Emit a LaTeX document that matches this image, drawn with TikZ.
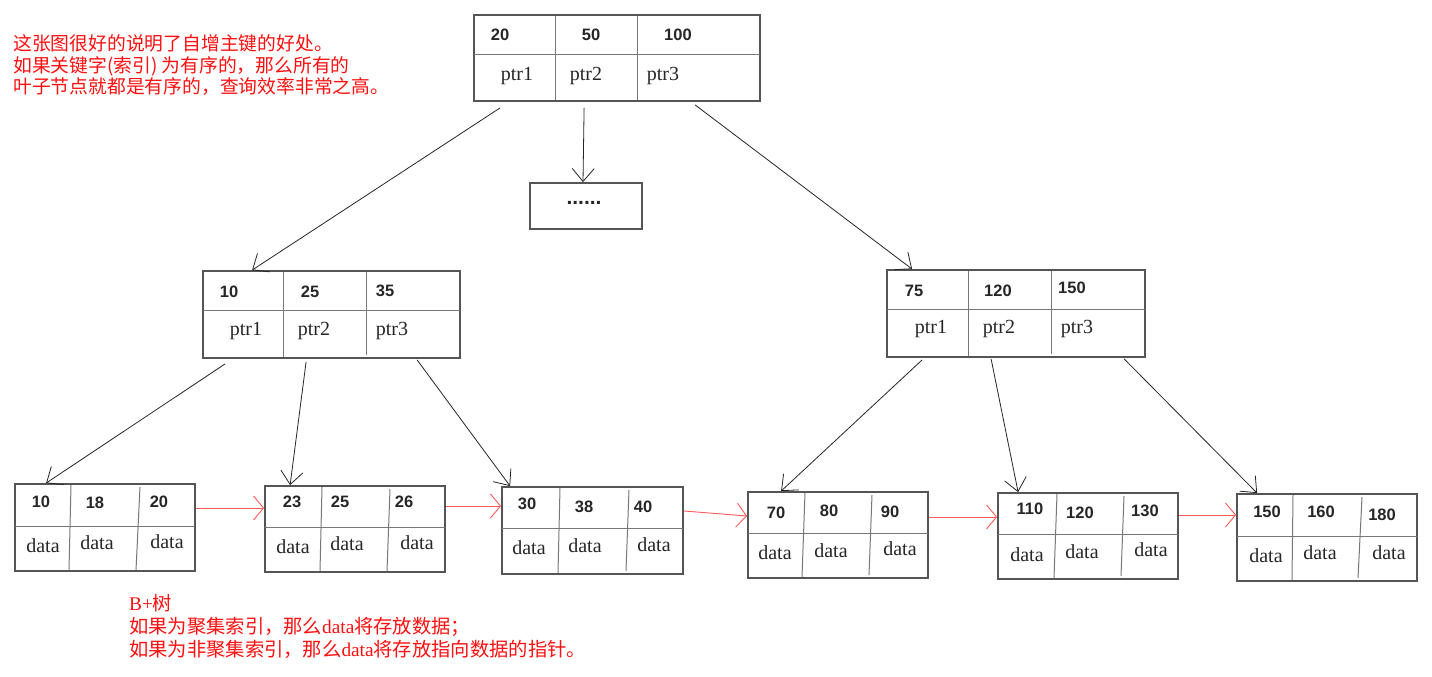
\documentclass[tikz,border=0pt]{standalone}
\usepackage{fontspec}
\setmainfont{Liberation Serif}
\newfontfamily\cjk{Noto Sans CJK SC}
\newfontfamily\numf{Liberation Sans}
\usetikzlibrary{arrows.meta}
\definecolor{boxgray}{HTML}{555555}
\definecolor{divgray}{HTML}{777777}
\definecolor{linkred}{HTML}{FF5A5A}
\definecolor{txtred}{HTML}{FF1010}
\begin{document}
\begin{tikzpicture}[x=1pt,y=-1pt,
  box/.style={draw=boxgray, line width=1.8pt, fill=white, inner sep=0pt, rectangle},
  div/.style={draw=divgray, line width=1pt},
  num/.style={font=\numf\bfseries\fontsize{16.5}{18}\selectfont, text=black!85, inner sep=0pt},
  ser/.style={font=\fontsize{20}{22}\selectfont, text=black!85, inner sep=0pt},
  tree/.style={draw=black!85, line width=0.8pt, -{Straight Barb[length=13pt,width=22pt]}},
  link/.style={draw=linkred, line width=0.9pt, -{Straight Barb[length=10pt,width=24pt]}},
  note/.style={text=txtred, align=left, inner sep=0pt, anchor=west}
]
\fill[white] (0,0) rectangle (1432,677);
\useasboundingbox (0,0) rectangle (1432,677);

% ---------- root ----------
\node[box, minimum width=286pt, minimum height=86pt] (root) at (617,58) {};
\draw[div] (474,55) -- (760,55);
\draw[div] (555,16) -- (555,100);
\draw[div] (637,16) -- (637,100);
\node[num] (r1) at (500,35) {20};
\node[num] (r2) at (591,35) {50};
\node[num] (r3) at (678,35) {100};
\node[ser] (rp1) at (517,76) {ptr1};
\node[ser] (rp2) at (586,76) {ptr2};
\node[ser] (rp3) at (663,76) {ptr3};

% ---------- dots ----------
\node[box, minimum width=112pt, minimum height=46pt] (dots) at (586,206) {};
\node[num, font=\numf\bfseries\fontsize{21}{22}\selectfont] (dt) at (584,203) {......};

% ---------- middle left ----------
\node[box, minimum width=257pt, minimum height=87pt] (ml) at (331.5,314.5) {};
\draw[div] (203,310) -- (460,310);
\draw[div] (283,272) -- (283,357);
\draw[div] (366,272) -- (366,355);
\node[num] (m1) at (229,292) {10};
\node[num] (m2) at (310,292) {25};
\node[num] (m3) at (385,291) {35};
\node[ser] (mp1) at (246,331) {ptr1};
\node[ser] (mp2) at (314,331) {ptr2};
\node[ser] (mp3) at (392,331) {ptr3};

% ---------- middle right ----------
\node[box, minimum width=258pt, minimum height=87pt] (mr) at (1016,313.5) {};
\draw[div] (887,309) -- (1145,309);
\draw[div] (968,271) -- (968,356);
\draw[div] (1051,271) -- (1051,354);
\node[num] (n1) at (914,291) {75};
\node[num] (n2) at (998,291) {120};
\node[num] (n3) at (1072,288) {150};
\node[ser] (np1) at (931,329) {ptr1};
\node[ser] (np2) at (999,329) {ptr2};
\node[ser] (np3) at (1077,329) {ptr3};

% ---------- leaves ----------
\node[box, minimum width=180pt, minimum height=87pt] (L1) at (105,527.5) {};
\draw[div] (15,526) -- (195,526);
\draw[div] (71,485) -- (69,570);
\draw[div] (140,487) -- (136,570);
\node[num] (a1) at (41,502) {10};
\node[num] (a2) at (95,503) {18};
\node[num] (a3) at (159,502) {20};
\node[ser] (ad1) at (43,546) {data};
\node[ser] (ad2) at (97,543) {data};
\node[ser] (ad3) at (167,542) {data};

\node[box, minimum width=180pt, minimum height=86pt] (L2) at (355,529) {};
\draw[div] (265,527) -- (445,527);
\draw[div] (322,487) -- (320,571);
\draw[div] (390,489) -- (387,571);
\node[num] (b1) at (292,502) {23};
\node[num] (b2) at (340,502) {25};
\node[num] (b3) at (404,502) {26};
\node[ser] (bd1) at (293,547) {data};
\node[ser] (bd2) at (347,544) {data};
\node[ser] (bd3) at (417,543) {data};

\node[box, minimum width=181pt, minimum height=87pt] (L3) at (592.5,530.5) {};
\draw[div] (502,528) -- (683,528);
\draw[div] (560,488) -- (558,573);
\draw[div] (629,490) -- (626,571);
\node[num] (c1) at (527,504) {30};
\node[num] (c2) at (584,507) {38};
\node[num] (c3) at (643,507) {40};
\node[ser] (cd1) at (529,548) {data};
\node[ser] (cd2) at (585,546) {data};
\node[ser] (cd3) at (654,545) {data};

\node[box, minimum width=180pt, minimum height=86pt] (L4) at (838,535) {};
\draw[div] (748,533) -- (928,533);
\draw[div] (805,493) -- (802,577);
\draw[div] (872,495) -- (869,575);
\node[num] (d1) at (776,513) {70};
\node[num] (d2) at (829,511) {80};
\node[num] (d3) at (890,512) {90};
\node[ser] (dd1) at (775,553) {data};
\node[ser] (dd2) at (831,551) {data};
\node[ser] (dd3) at (900,549) {data};

\node[box, minimum width=180pt, minimum height=86pt] (L5) at (1088,536) {};
\draw[div] (998,534) -- (1178,534);
\draw[div] (1057,494) -- (1054,578);
\draw[div] (1124,496) -- (1121,576);
\node[num] (e1) at (1030,509) {110};
\node[num] (e2) at (1080,513) {120};
\node[num] (e3) at (1145,511) {130};
\node[ser] (ed1) at (1027,555) {data};
\node[ser] (ed2) at (1082,552) {data};
\node[ser] (ed3) at (1151,550) {data};

\node[box, minimum width=180pt, minimum height=87pt] (L6) at (1327,537.5) {};
\draw[div] (1237,536) -- (1417,536);
\draw[div] (1293,495) -- (1292,580);
\draw[div] (1362,497) -- (1358,578);
\node[num] (f1) at (1267,512) {150};
\node[num] (f2) at (1321,512) {160};
\node[num] (f3) at (1382,515) {180};
\node[ser] (fd1) at (1266,556) {data};
\node[ser] (fd2) at (1320,553) {data};
\node[ser] (fd3) at (1389,553) {data};

% ---------- tree connectors ----------
\draw[tree] ([xshift=27pt,yshift=-6pt]root.south west) -- ([xshift=50pt]ml.north west);
\draw[tree] ([xshift=111pt,yshift=-6pt]root.south west) -- ([xshift=-3pt]dots.north);
\draw[tree] ([xshift=222pt,yshift=-3pt]root.south west) -- ([xshift=26pt]mr.north west);
\draw[tree] ([xshift=23pt,yshift=-5pt]ml.south west) -- ([xshift=32pt]L1.north west);
\draw[tree] ([xshift=104pt,yshift=-3pt]ml.south west) -- ([xshift=26pt]L2.north west);
\draw[tree] ([xshift=215pt,yshift=-1pt]ml.south west) -- ([xshift=9pt]L3.north west);
\draw[tree] ([xshift=36pt,yshift=-2pt]mr.south west) -- ([xshift=34pt]L4.north west);
\draw[tree] ([xshift=105pt,yshift=-1pt]mr.south west) -- ([xshift=21pt]L5.north west);
\draw[tree] ([xshift=238pt,yshift=-1pt]mr.south west) -- ([xshift=21pt]L6.north west);

% ---------- leaf links ----------
\draw[link] ([yshift=19.5pt]L1.east) -- ([yshift=21pt]L2.west);
\draw[link] ([yshift=23pt]L2.east) -- ([yshift=24.5pt]L3.west);
\draw[link] ([yshift=19.5pt]L3.east) -- ([yshift=19pt]L4.west);
\draw[link] ([yshift=18pt]L4.east) -- ([yshift=19pt]L5.west);
\draw[link] ([yshift=21pt]L5.east) -- ([yshift=22.5pt]L6.west);

% ---------- notes ----------
\node[note, font=\cjk\fontsize{18.8}{21.5}\selectfont] (topnote) at (13,65.5)
  {这张图很好的说明了自增主键的好处。\\如果关键字(索引) 为有序的，那么所有的\\叶子节点就都是有序的，查询效率非常之高。};
\node[note, font=\fontsize{19.3}{23}\selectfont] (botnote) at (129,626)
  {B+{\cjk 树}\\{\cjk 如果为聚集索引，那么}data{\cjk 将存放数据；}\\{\cjk 如果为非聚集索引，那么}data{\cjk 将存放指向数据的指针。}};
\end{tikzpicture}
\end{document}
